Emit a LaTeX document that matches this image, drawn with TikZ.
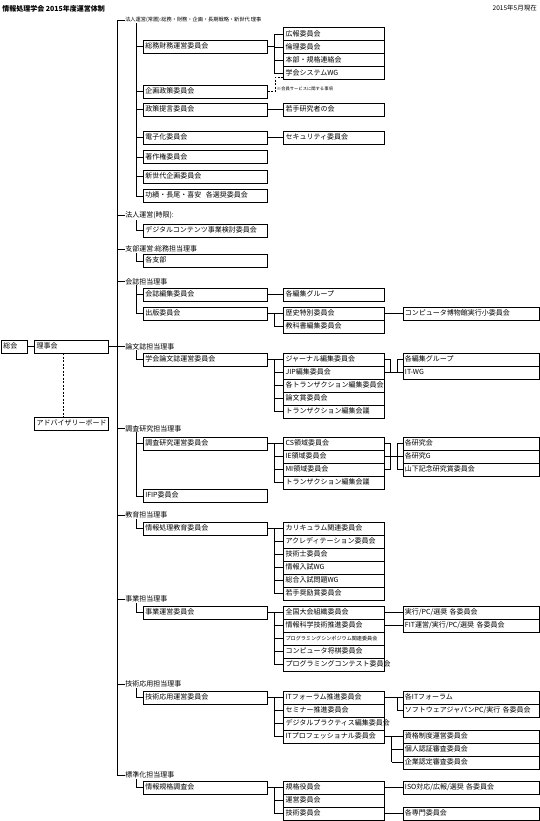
\documentclass[tikz,border=0pt]{standalone}
\usepackage{fontspec}
\newfontfamily\jpfont{Noto Sans CJK JP}
\usetikzlibrary{positioning}

\tikzset{
  boxbase/.style={draw, line width=.5pt, anchor=north west, minimum height=13pt,
    inner xsep=2pt, inner ysep=0pt, align=left, text height=5.5pt, text depth=1.2pt,
    font=\jpfont\fontsize{7}{8}\selectfont},
  lvone/.style={boxbase, text width=120pt},
  lvtwo/.style={boxbase, text width=97pt},
  lvthree/.style={boxbase, text width=132.3pt},
  headtxt/.style={anchor=west, inner sep=.5pt, font=\jpfont\fontsize{7}{8}\selectfont},
  dashline/.style={dash pattern=on 2pt off 1.5pt, line width=.5pt}
}

\begin{document}
\begin{tikzpicture}[x=1pt, y=-1pt, line width=.5pt]
  \useasboundingbox (0,0) rectangle (540,821);

  % title
  \node[anchor=west, inner sep=0pt, font=\jpfont\fontsize{7}{8}\selectfont\bfseries] (title) at (2,8.5) {情報処理学会 2015年度運営体制};
  \node[anchor=east, inner sep=0pt, font=\jpfont\fontsize{6.5}{8}\selectfont] (date) at (537,8.5) {2015年5月現在};

  % junction columns
  \coordinate (tk) at (117,0);
  \coordinate (br) at (136,0);
  \coordinate (ja) at (274,0);
  \coordinate (jb) at (390,0);
  \coordinate (jc) at (397,0);
  \coordinate (jd) at (391.7,0);
  \coordinate (dv) at (63.3,0);

  % left side
  \node[boxbase, text width=21.7pt] (sokai) at (1,339.5) {総会};
  \node[boxbase, text width=70pt] (rijikai) at (34.3,339.5) {理事会};
  \node[boxbase, text width=70pt] (adv) at (34.3,417) {アドバイザリーボード};
  \draw (sokai.east) -- (rijikai.west);
  \draw (rijikai.east) -- (rijikai.east -| tk);
  \draw[dashline] (rijikai.south -| dv) -- (adv.north -| dv);

  % heads
  \node[headtxt, font=\jpfont\fontsize{5.2}{6}\selectfont] (hdHojin) at (124.5,20) {法人運営(常置):総務・財務・企画・長期戦略・新世代 理事};
  \node[headtxt] (hdJigen) at (124.5,215.5) {法人運営(時限):};
  \node[headtxt] (hdShibu) at (124.5,249) {支部運営:総務担当理事};
  \node[headtxt] (hdKaishi) at (124.5,281.5) {会誌担当理事};
  \node[headtxt] (hdRonbun) at (124.5,346.5) {論文誌担当理事};
  \node[headtxt] (hdChosa) at (124.5,428.5) {調査研究担当理事};
  \node[headtxt] (hdKyoiku) at (124.5,515) {教育担当理事};
  \node[headtxt] (hdJigyo) at (124.5,599) {事業担当理事};
  \node[headtxt] (hdGijutsu) at (124.5,684) {技術応用担当理事};
  \node[headtxt] (hdHyojun) at (124.5,775) {標準化担当理事};
  \draw (hdHojin.west -| tk) -- (hdHyojun.west -| tk);
  \foreach \h in {hdHojin,hdJigen,hdShibu,hdKaishi,hdRonbun,hdChosa,hdKyoiku,hdJigyo,hdGijutsu,hdHyojun}
    \draw (\h.west -| tk) -- (\h.west);

  % 法人運営（常置）
  \node[lvone] (somu) at (143,40) {総務財務運営委員会};
  \node[lvone] (kikaku) at (143,85) {企画政策委員会};
  \node[lvone] (seisaku) at (143,103) {政策提言委員会};
  \node[lvone] (denshi) at (143,131) {電子化委員会};
  \node[lvone] (chosaku) at (143,150.5) {著作権委員会};
  \node[lvone] (shinsedai) at (143,170) {新世代企画委員会};
  \node[lvone] (koseki) at (143,189) {功績・長尾・喜安\ \ 各選奨委員会};
  \draw (hdHojin.south -| br) -- (koseki.west -| br);
  \foreach \n in {somu,kikaku,seisaku,denshi,chosaku,shinsedai,koseki}
    \draw (\n.west -| br) -- (\n.west);

  \node[lvtwo] (koho) at (283.3,27.5) {広報委員会};
  \node[lvtwo] (rinri) at (283.3,40.5) {倫理委員会};
  \node[lvtwo] (honbu) at (283.3,53.5) {本部・規格連絡会};
  \node[lvtwo] (system) at (283.3,66.5) {学会システムWG};
  \draw (somu.east) -- (somu.east -| ja);
  \draw (koho.west -| ja) -- (system.west -| ja);
  \foreach \n in {koho,rinri,honbu,system}
    \draw (\n.west -| ja) -- (\n.west);
  \draw[dashline] ([yshift=2.5pt]system.south west) -- ++(-8.3,0) |- (kikaku.east);
  \node[anchor=west, inner sep=0pt, font=\jpfont\fontsize{4.3}{5}\selectfont] (memo) at (276.7,89.3) {※会員サービスに関する事項};

  \node[lvtwo] (wakate) at (283.3,103) {若手研究者の会};
  \draw (seisaku.east) -- (wakate.west);
  \node[lvtwo] (security) at (283.3,131) {セキュリティ委員会};
  \draw (denshi.east) -- (security.west);

  % 法人運営（時限）
  \node[lvone] (digital) at (143,223.5) {デジタルコンテンツ事業検討委員会};
  \draw (hdJigen.south -| br) |- (digital.west);

  % 支部運営
  \node[lvone] (shibu) at (143,254) {各支部};
  \draw (hdShibu.south -| br) |- (shibu.west);

  % 会誌
  \node[lvone] (kaishi) at (143,287.5) {会誌編集委員会};
  \node[lvone] (shuppan) at (143,306.5) {出版委員会};
  \draw (hdKaishi.south -| br) |- (shuppan.west);
  \draw (kaishi.west -| br) -- (kaishi.west);
  \node[lvtwo] (kakuhen) at (283.3,287.5) {各編集グループ};
  \draw (kaishi.east) -- (kakuhen.west);
  \node[lvtwo] (rekishi) at (283.3,306.5) {歴史特別委員会};
  \node[lvtwo] (kyokasho) at (283.3,319.5) {教科書編集委員会};
  \draw (shuppan.east) -- (shuppan.east -| ja);
  \draw (rekishi.west -| ja) -- (kyokasho.west -| ja);
  \foreach \n in {rekishi,kyokasho}
    \draw (\n.west -| ja) -- (\n.west);
  \node[lvthree] (museum) at (402.7,306.5) {コンピュータ博物館実行小委員会};
  \draw (rekishi.east) -- (museum.west);

  % 論文誌
  \node[lvone] (ronbun) at (143,352.5) {学会論文誌運営委員会};
  \draw (hdRonbun.south -| br) |- (ronbun.west);
  \node[lvtwo] (journal) at (283.3,352.5) {ジャーナル編集委員会};
  \node[lvtwo] (jip) at (283.3,365.5) {JIP編集委員会};
  \node[lvtwo] (trans) at (283.3,378.5) {各トランザクション編集委員会};
  \node[lvtwo] (ronbunsho) at (283.3,391.5) {論文賞委員会};
  \node[lvtwo] (transkaigi) at (283.3,404.5) {トランザクション編集会議};
  \draw (ronbun.east) -- (ronbun.east -| ja);
  \draw (journal.west -| ja) -- (transkaigi.west -| ja);
  \foreach \n in {journal,jip,trans,ronbunsho,transkaigi}
    \draw (\n.west -| ja) -- (\n.west);
  \node[lvthree] (kakuhenB) at (402.7,352.5) {各編集グループ};
  \node[lvthree] (itwg) at (402.7,365.5) {IT-WG};
  \draw (journal.east) -- (journal.east -| jb) -- (jip.east -| jb) -- (jip.east);
  \draw ([yshift=-6.5pt]journal.south east -| jb) -- ([yshift=-6.5pt]journal.south east -| jc);
  \draw (kakuhenB.west -| jc) -- (itwg.west -| jc);
  \foreach \n in {kakuhenB,itwg}
    \draw (\n.west -| jc) -- (\n.west);

  % 調査研究
  \node[lvone] (chosa) at (143,436.5) {調査研究運営委員会};
  \node[lvone] (ifip) at (143,489) {IFIP委員会};
  \draw (hdChosa.south -| br) |- (ifip.west);
  \draw (chosa.west -| br) -- (chosa.west);
  \node[lvtwo] (cs) at (283.3,436.5) {CS領域委員会};
  \node[lvtwo] (ie) at (283.3,449.5) {IE領域委員会};
  \node[lvtwo] (mi) at (283.3,462.5) {MI領域委員会};
  \node[lvtwo] (transkaigiB) at (283.3,475.5) {トランザクション編集会議};
  \draw (chosa.east) -- (chosa.east -| ja);
  \draw (cs.west -| ja) -- (transkaigiB.west -| ja);
  \foreach \n in {cs,ie,mi,transkaigiB}
    \draw (\n.west -| ja) -- (\n.west);
  \node[lvthree] (kenkyukai) at (402.7,436.5) {各研究会};
  \node[lvthree] (kenkyuG) at (402.7,449.5) {各研究G};
  \node[lvthree] (yamashita) at (402.7,462.5) {山下記念研究賞委員会};
  \draw (cs.east) -- (cs.east -| jb) -- (mi.east -| jb) -- (mi.east);
  \draw (ie.east) -- (ie.east -| jc);
  \draw (kenkyukai.west -| jc) -- (yamashita.west -| jc);
  \foreach \n in {kenkyukai,kenkyuG,yamashita}
    \draw (\n.west -| jc) -- (\n.west);

  % 教育
  \node[lvone] (kyoiku) at (143,521.5) {情報処理教育委員会};
  \draw (hdKyoiku.south -| br) |- (kyoiku.west);
  \node[lvtwo] (curri) at (283.3,521.5) {カリキュラム関連委員会};
  \node[lvtwo] (accred) at (283.3,534.5) {アクレディテーション委員会};
  \node[lvtwo] (gijutsushi) at (283.3,547.5) {技術士委員会};
  \node[lvtwo] (nyushi) at (283.3,560.5) {情報入試WG};
  \node[lvtwo] (sogo) at (283.3,573.5) {総合入試問題WG};
  \node[lvtwo] (shorei) at (283.3,586.5) {若手奨励賞委員会};
  \draw (kyoiku.east) -- (kyoiku.east -| ja);
  \draw (curri.west -| ja) -- (shorei.west -| ja);
  \foreach \n in {curri,accred,gijutsushi,nyushi,sogo,shorei}
    \draw (\n.west -| ja) -- (\n.west);

  % 事業
  \node[lvone] (jigyo) at (143,605.5) {事業運営委員会};
  \draw (hdJigyo.south -| br) |- (jigyo.west);
  \node[lvtwo] (zenkoku) at (283.3,605.5) {全国大会組織委員会};
  \node[lvtwo] (kagaku) at (283.3,618.5) {情報科学技術推進委員会};
  \node[lvtwo, font=\jpfont\fontsize{5.1}{6}\selectfont] (prosym) at (283.3,631.5) {プログラミングシンポジウム関連委員会};
  \node[lvtwo] (shogi) at (283.3,644.5) {コンピュータ将棋委員会};
  \node[lvtwo] (procon) at (283.3,657.5) {プログラミングコンテスト委員会};
  \draw (jigyo.east) -- (jigyo.east -| ja);
  \draw (zenkoku.west -| ja) -- (procon.west -| ja);
  \foreach \n in {zenkoku,kagaku,prosym,shogi,procon}
    \draw (\n.west -| ja) -- (\n.west);
  \node[lvthree] (jikko) at (402.7,605.5) {実行/PC/選奨 各委員会};
  \node[lvthree] (fitun) at (402.7,618.5) {FIT運営/実行/PC/選奨 各委員会};
  \draw (zenkoku.east) -- (jikko.west);
  \draw (kagaku.east) -- (fitun.west);

  % 技術応用
  \node[lvone] (gijutsu) at (143,690.5) {技術応用運営委員会};
  \draw (hdGijutsu.south -| br) |- (gijutsu.west);
  \node[lvtwo] (itforum) at (283.3,690.5) {ITフォーラム推進委員会};
  \node[lvtwo] (seminar) at (283.3,703.5) {セミナー推進委員会};
  \node[lvtwo] (dp) at (283.3,716.5) {デジタルプラクティス編集委員会};
  \node[lvtwo] (itpro) at (283.3,729.5) {ITプロフェッショナル委員会};
  \draw (gijutsu.east) -- (gijutsu.east -| ja);
  \draw (itforum.west -| ja) -- (itpro.west -| ja);
  \foreach \n in {itforum,seminar,dp,itpro}
    \draw (\n.west -| ja) -- (\n.west);
  \node[lvthree] (kakuIT) at (402.7,690.5) {各ITフォーラム};
  \node[lvthree] (swj) at (402.7,703.5) {ソフトウェアジャパンPC/実行 各委員会};
  \draw (itforum.east) -- (itforum.east -| jc);
  \draw (kakuIT.west -| jc) -- (swj.west -| jc);
  \foreach \n in {kakuIT,swj}
    \draw (\n.west -| jc) -- (\n.west);
  \node[lvthree] (shikaku) at (402.7,729.5) {資格制度運営委員会};
  \node[lvthree] (kojin) at (402.7,742.5) {個人認証審査委員会};
  \node[lvthree] (kigyo) at (402.7,755.5) {企業認定審査委員会};
  \draw (itpro.east) -- (itpro.east -| jd);
  \draw (shikaku.west -| jd) -- (kigyo.west -| jd);
  \foreach \n in {shikaku,kojin,kigyo}
    \draw (\n.west -| jd) -- (\n.west);

  % 標準化
  \node[lvone] (kikakuchosa) at (143,780.5) {情報規格調査会};
  \draw (hdHyojun.south -| br) |- (kikakuchosa.west);
  \node[lvtwo] (yakuin) at (283.3,780.5) {規格役員会};
  \node[lvtwo] (uneiB) at (283.3,793.5) {運営委員会};
  \node[lvtwo] (gijutsuB) at (283.3,806.5) {技術委員会};
  \draw (kikakuchosa.east) -- (kikakuchosa.east -| ja);
  \draw (yakuin.west -| ja) -- (gijutsuB.west -| ja);
  \foreach \n in {yakuin,uneiB,gijutsuB}
    \draw (\n.west -| ja) -- (\n.west);
  \node[lvthree] (iso) at (402.7,780.5) {ISO対応/広報/選奨 各委員会};
  \node[lvthree] (senmon) at (402.7,806.5) {各専門委員会};
  \draw (yakuin.east) -- (iso.west);
  \draw (gijutsuB.east) -- (senmon.west);
\end{tikzpicture}
\end{document}
